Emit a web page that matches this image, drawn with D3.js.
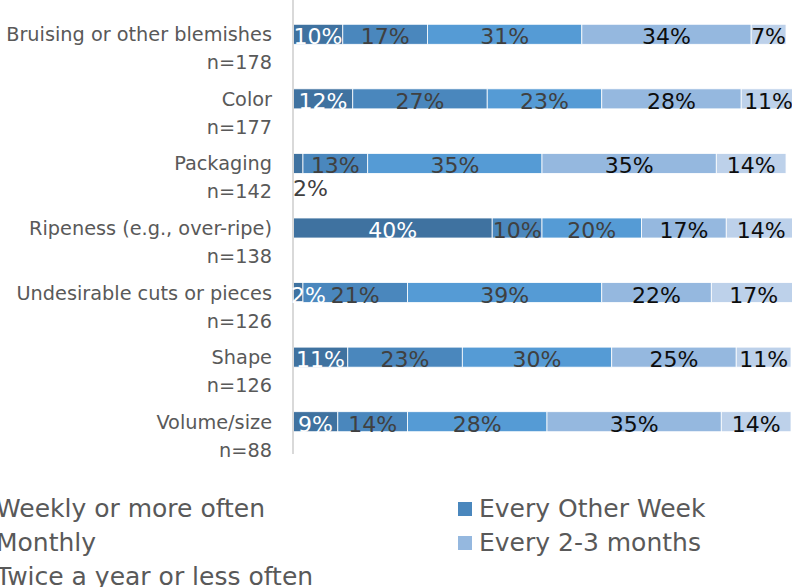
<!DOCTYPE html>
<html>
<head>
<meta charset="utf-8">
<script src="https://cdn.jsdelivr.net/npm/d3@7"></script>
<style>
  html, body { margin: 0; padding: 0; background: #fff; overflow: hidden; }
  svg { display: block; }
</style>
</head>
<body>
<svg id="chart" width="792" height="587"></svg>
<script>
// Purchase-frequency breakdown per quality issue (percent of respondents)
const categories = [
  "Bruising or other blemishes",
  "Color",
  "Packaging",
  "Ripeness (e.g., over-ripe)",
  "Undesirable cuts or pieces",
  "Shape",
  "Volume/size"
];
const sampleSizes = ["n=178", "n=177", "n=142", "n=138", "n=126", "n=126", "n=88"];

const seriesNames = [
  "Weekly or more often",
  "Every Other Week",
  "Monthly",
  "Every 2-3 months",
  "Twice a year or less often"
];

const weekly      = [10, 12,  2, 40,  2, 11,  9];
const otherWeek   = [17, 27, 13, 10, 21, 23, 14];
const monthly     = [31, 23, 35, 20, 39, 30, 28];
const twoToThree  = [34, 28, 35, 17, 22, 25, 35];
const twiceYear   = [ 7, 11, 14, 14, 17, 11, 14];

const seriesValues = [weekly, otherWeek, monthly, twoToThree, twiceYear];

const colors = ["#3f72a0", "#4a87bd", "#559bd5", "#95b8df", "#bdd1ea"];
const labelColors = ["#ffffff", "#404040", "#404040", "#0d0d0d", "#0d0d0d"];

// Labels placed under their bar instead of inside it
const labelsBelow = [["Packaging", "Weekly or more often"]];

const svg = d3.select("#chart");

const rows = categories.map((c, i) => {
  const r = { category: c, n: sampleSizes[i] };
  seriesNames.forEach((s, k) => { r[s] = seriesValues[k][i]; });
  return r;
});

const stacked = d3.stack().keys(seriesNames)(rows);

const x = d3.scaleLinear().domain([0, 100]).range([293, 791]);
const y = d3.scaleBand().domain(categories).range([2, 454]).paddingInner(0.69).paddingOuter(0.345);

// Segments
const layers = svg.append("g").selectAll("g")
  .data(stacked)
  .join("g")
  .attr("fill", (d, i) => colors[i]);

layers.selectAll("rect")
  .data(d => d)
  .join("rect")
  .attr("x", d => x(d[0]))
  .attr("y", d => y(d.data.category))
  .attr("width", d => x(d[1]) - x(d[0]))
  .attr("height", y.bandwidth())
  .attr("stroke", "#ffffff")
  .attr("stroke-width", 0.8);

// Value axis baseline
svg.append("line")
  .attr("x1", 293).attr("x2", 293)
  .attr("y1", 0).attr("y2", 454)
  .attr("stroke", "#d9d9d9")
  .attr("stroke-width", 2);

// Data labels (kept from spilling past the left edge of the plot)
const labelFont = "'DejaVu Sans', sans-serif";
stacked.forEach((layer, k) => {
  const g = svg.append("g");
  layer.forEach(d => {
    const below = labelsBelow.some(p => p[0] === d.data.category && p[1] === seriesNames[k]);
    const cy = y(d.data.category) + y.bandwidth() / 2;
    const v = d[1] - d[0];
    const t = g.append("text")
      .attr("font-family", labelFont)
      .attr("font-size", 22)
      .attr("fill", below ? "#404040" : labelColors[k])
      .text(v + "%");
    const w = t.node().getComputedTextLength();
    let left;
    if (below) {
      left = x(d[0]);
    } else {
      left = Math.max((x(d[0]) + x(d[1])) / 2 - w / 2, x(0) - 2);
    }
    t.attr("x", left).attr("y", below ? cy + 33 : cy + 10);
  });
});

// Category labels
const catG = svg.append("g")
  .attr("font-family", "'DejaVu Sans', sans-serif")
  .attr("font-size", 19.3)
  .attr("fill", "#595959")
  .attr("text-anchor", "end");

categories.forEach((c, i) => {
  const cy = y(c) + y.bandwidth() / 2;
  catG.append("text").attr("x", 272).attr("y", cy + 7).text(c);
  catG.append("text").attr("x", 272).attr("y", cy + 35).text(sampleSizes[i]);
});

// Legend: two columns, left column starts off the left edge
const legendItems = [
  { name: seriesNames[0], color: colors[0], col: 0, row: 0 },
  { name: seriesNames[1], color: colors[1], col: 1, row: 0 },
  { name: seriesNames[2], color: colors[2], col: 0, row: 1 },
  { name: seriesNames[3], color: colors[3], col: 1, row: 1 },
  { name: seriesNames[4], color: colors[4], col: 0, row: 2 }
];
const colX = [-4, 479];
const legend = svg.append("g")
  .attr("font-family", "'DejaVu Sans', sans-serif")
  .attr("font-size", 25)
  .attr("fill", "#595959");

legendItems.forEach(it => {
  const base = 517 + it.row * 34;
  legend.append("rect")
    .attr("x", colX[it.col] - 21)
    .attr("y", base - 15)
    .attr("width", 14).attr("height", 14)
    .attr("fill", it.color);
  legend.append("text")
    .attr("x", colX[it.col])
    .attr("y", base)
    .text(it.name);
});
</script>
</body>
</html>
